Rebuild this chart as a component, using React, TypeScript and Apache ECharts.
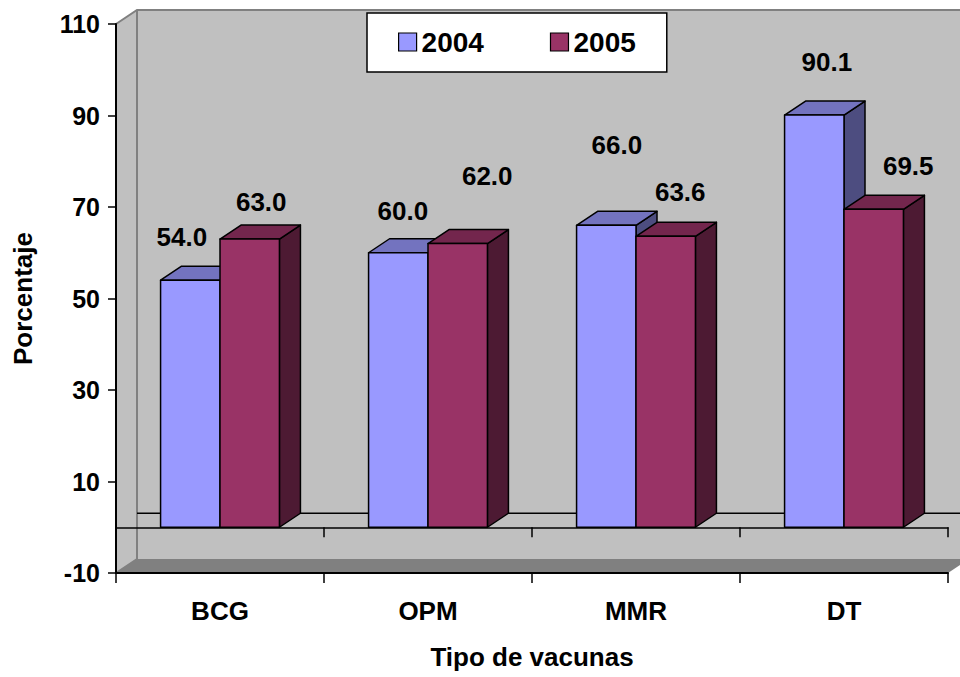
import { useEffect, useRef } from 'react';
import * as echarts from 'echarts';

// Vaccine types and coverage (%) per year
const categories = ['BCG', 'OPM', 'MMR', 'DT'];
const years = ['2004', '2005'];
const values2004 = [54.0, 60.0, 66.0, 90.1];
const values2005 = [63.0, 62.0, 63.6, 69.5];

// Value axis range and tick step
const yMin = -10;
const yMax = 110;
const yStep = 20;

// Hand-placed nudges (px) for each value label, relative to its bar's top face
const labelNudge2004 = [[-19, -36], [-6, -35], [0, -73], [2, -46]];
const labelNudge2005 = [[1, -30], [19, -61], [4, -37], [24, -36]];

// Oblique projection used for the depth of bars and walls
const DX = 21;
const DY = -14;
const GAP_RATIO = 1.5; // gap between groups, relative to one bar width
const FONT = '"Liberation Sans", Arial, Helvetica, sans-serif';

const palette = [
  { front: '#9999ff', top: '#7373bf', side: '#4d4d80' },
  { front: '#993366', top: '#73264d', side: '#4d1a33' },
];

function makeBarRenderer(slot: number, nudges: number[][]) {
  return (params: any, api: any) => {
    const cat = api.value(0);
    const v = api.value(1);
    const band = api.size([1, 0])[0];
    const w = band / (2 + GAP_RATIO);
    const [cx, yTop] = api.coord([cat, v]);
    const yBase = api.coord([cat, 0])[1];
    const x0 = cx - w + slot * w;
    const c = palette[slot];
    const edge = { stroke: '#000', lineWidth: 1.5, lineJoin: 'round' };
    const [nx, ny] = nudges[params.dataIndex];
    return {
      type: 'group',
      children: [
        {
          type: 'polygon',
          shape: { points: [[x0 + w, yTop], [x0 + w + DX, yTop + DY], [x0 + w + DX, yBase + DY], [x0 + w, yBase]] },
          style: { fill: c.side, ...edge },
        },
        {
          type: 'polygon',
          shape: { points: [[x0, yTop], [x0 + DX, yTop + DY], [x0 + w + DX, yTop + DY], [x0 + w, yTop]] },
          style: { fill: c.top, ...edge },
        },
        {
          type: 'rect',
          shape: { x: x0, y: yTop, width: w, height: yBase - yTop },
          style: { fill: c.front, ...edge },
        },
        {
          type: 'text',
          x: x0 + w / 2 + DX / 2 + nx,
          y: yTop + DY / 2 + ny,
          style: {
            text: Number(v).toFixed(1),
            fill: '#000',
            fontSize: 26,
            fontWeight: 'bold',
            fontFamily: FONT,
            align: 'center',
            verticalAlign: 'middle',
          },
        },
      ],
    };
  };
}

// Back wall, side wall, floor and the zero line on the back wall
function renderWalls(params: any, api: any) {
  const cs = params.coordSys;
  const L = cs.x;
  const T = cs.y;
  const R = cs.x + cs.width;
  const B = cs.y + cs.height;
  const yZero = api.coord([0, 0])[1];
  const edge = { stroke: '#808080', lineWidth: 2, fill: null };
  return {
    type: 'group',
    children: [
      { type: 'rect', shape: { x: L + DX, y: T + DY, width: R - L, height: B - T }, style: { fill: '#c0c0c0' } },
      { type: 'polygon', shape: { points: [[L, T], [L + DX, T + DY], [L + DX, B + DY], [L, B]] }, style: { fill: '#c0c0c0' } },
      { type: 'polygon', shape: { points: [[L, B], [L + DX, B + DY], [R + DX, B + DY], [R, B]] }, style: { fill: '#808080' } },
      { type: 'polyline', shape: { points: [[L, T], [L + DX, T + DY], [R + DX, T + DY]] }, style: edge },
      { type: 'polyline', shape: { points: [[L + DX, T + DY], [L + DX, B + DY], [L, B]] }, style: edge },
      {
        type: 'line',
        shape: { x1: L + DX, y1: yZero + DY, x2: R + DX, y2: yZero + DY },
        style: { stroke: '#000', lineWidth: 1.5 },
      },
    ],
  };
}

export default function App() {
  const ref = useRef<HTMLDivElement>(null);

  useEffect(() => {
    if (!ref.current) return;
    const chart = echarts.init(ref.current, null, { renderer: 'svg' });
    const labelText = { color: '#000', fontWeight: 'bold', fontFamily: FONT };

    chart.setOption({
      animation: false,
      backgroundColor: '#ffffff',
      grid: { left: 116, right: 12, top: 24, bottom: 104, containLabel: false },
      legend: {
        left: 367,
        top: 13,
        orient: 'horizontal',
        backgroundColor: '#ffffff',
        borderColor: '#000',
        borderWidth: 1.5,
        padding: [15, 31, 16, 31],
        itemWidth: 18,
        itemHeight: 18,
        itemGap: 66,
        textStyle: { ...labelText, fontSize: 28 },
        data: [
          { name: years[0], icon: 'rect', itemStyle: { color: palette[0].front, borderColor: '#000', borderWidth: 1.2 } },
          { name: years[1], icon: 'rect', itemStyle: { color: palette[1].front, borderColor: '#000', borderWidth: 1.2 } },
        ],
      },
      xAxis: [
        {
          type: 'category',
          data: categories,
          position: 'bottom',
          z: 5,
          axisLine: { onZero: false, lineStyle: { color: '#000', width: 2 } },
          axisTick: { show: true, length: 10, lineStyle: { color: '#000', width: 1.5 } },
          axisLabel: { ...labelText, fontSize: 26, margin: 25 },
          name: 'Tipo de vacunas',
          nameLocation: 'middle',
          nameGap: 71,
          nameTextStyle: { ...labelText, fontSize: 26 },
        },
        {
          type: 'category',
          data: categories,
          position: 'top',
          z: 5,
          axisLine: { onZero: true, lineStyle: { color: '#000', width: 1.5 } },
          axisTick: { show: true, inside: true, length: 10, lineStyle: { color: '#000', width: 1.5 } },
          axisLabel: { show: false },
        },
      ],
      yAxis: {
        type: 'value',
        min: yMin,
        max: yMax,
        interval: yStep,
        z: 5,
        axisLine: { show: true, onZero: false, lineStyle: { color: '#000', width: 2 } },
        axisTick: { show: true, length: 8, lineStyle: { color: '#000', width: 1.5 } },
        axisLabel: { ...labelText, fontSize: 25, margin: 16 },
        splitLine: { show: false },
        name: 'Porcentaje',
        nameLocation: 'middle',
        nameGap: 80,
        nameTextStyle: { ...labelText, fontSize: 26 },
      },
      series: [
        {
          type: 'custom',
          name: 'fondo',
          silent: true,
          z: 1,
          xAxisIndex: 0,
          yAxisIndex: 0,
          renderItem: renderWalls,
          data: [[0, 0]],
        },
        {
          type: 'custom',
          name: years[0],
          z: 2,
          xAxisIndex: 0,
          yAxisIndex: 0,
          itemStyle: { color: palette[0].front },
          encode: { x: 0, y: 1 },
          renderItem: makeBarRenderer(0, labelNudge2004),
          data: values2004.map((v, i) => [i, v]),
        },
        {
          type: 'custom',
          name: years[1],
          z: 2,
          xAxisIndex: 0,
          yAxisIndex: 0,
          itemStyle: { color: palette[1].front },
          encode: { x: 0, y: 1 },
          renderItem: makeBarRenderer(1, labelNudge2005),
          data: values2005.map((v, i) => [i, v]),
        },
      ],
    });

    return () => chart.dispose();
  }, []);

  return (
    <div
      ref={ref}
      style={{ position: 'fixed', left: 0, top: 0, width: 960, height: 677, background: '#fff' }}
    />
  );
}
